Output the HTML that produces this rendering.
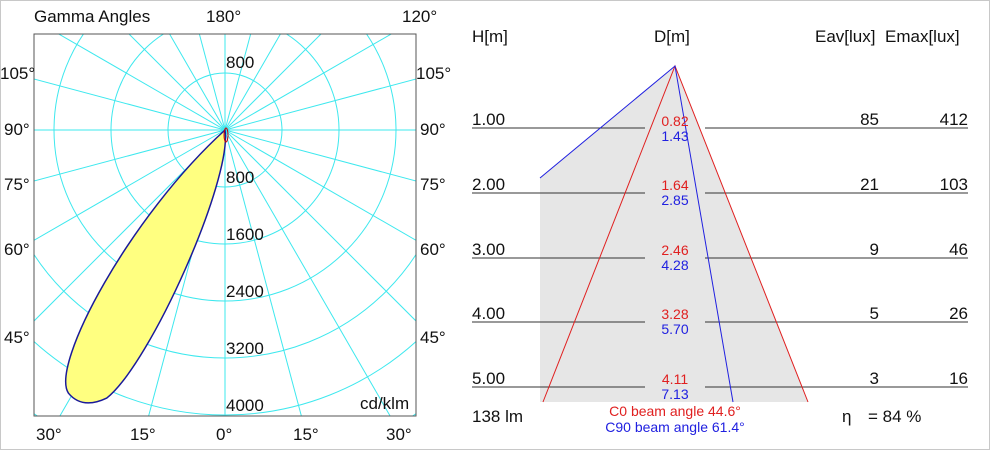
<!DOCTYPE html>
<html><head><meta charset="utf-8"><style>
html,body{margin:0;padding:0;background:#fff;overflow:hidden;width:990px;height:450px}
svg{display:block;font-family:"Liberation Sans",Arial,sans-serif}
</style></head><body>
<svg width="990" height="450" viewBox="0 0 990 450" xmlns="http://www.w3.org/2000/svg">
<rect x="0.5" y="0.5" width="989" height="449" fill="#fff" stroke="#c8c8c8"/>
<defs><clipPath id="c"><rect x="34" y="34" width="382" height="382"/></clipPath></defs>
<g clip-path="url(#c)" stroke="#3ee8ee" stroke-width="1" fill="none">
<circle cx="225" cy="130" r="57"/><circle cx="225" cy="130" r="114"/><circle cx="225" cy="130" r="171"/>
<circle cx="225" cy="130" r="228"/><circle cx="225" cy="130" r="285"/><circle cx="225" cy="130" r="342"/>
<circle cx="225" cy="130" r="399"/>
<g id="sp">
<line x1="225" y1="130" x2="225" y2="630"/>
<line x1="225" y1="130" x2="354" y2="613"/><line x1="225" y1="130" x2="475" y2="563"/>
<line x1="225" y1="130" x2="579" y2="484"/><line x1="225" y1="130" x2="658" y2="380"/>
<line x1="225" y1="130" x2="708" y2="259"/><line x1="225" y1="130" x2="725" y2="130"/>
<line x1="225" y1="130" x2="708" y2="1"/><line x1="225" y1="130" x2="658" y2="-120"/>
<line x1="225" y1="130" x2="579" y2="-224"/><line x1="225" y1="130" x2="475" y2="-303"/>
<line x1="225" y1="130" x2="354" y2="-353"/><line x1="225" y1="130" x2="225" y2="-370"/>
</g>
<use href="#sp" transform="translate(450 0) scale(-1 1)"/>
</g>
<rect x="34" y="34" width="382" height="382" fill="none" stroke="#555" stroke-width="1"/>
<path d="M0,0 C40,-30 240,-46 292,-24 Q314,-8 306,12 C290,42 120,42 0,0 Z" transform="translate(225 130) rotate(118.5)" fill="#ffff80" stroke="#1a1a9a" stroke-width="1.5"/>
<ellipse cx="226" cy="135" rx="2" ry="7" fill="none" stroke="#c00" stroke-width="1"/>
<g font-size="17" fill="#111">
<text x="34" y="22">Gamma Angles</text><text x="206" y="22">180°</text><text x="402" y="22">120°</text>
<text x="226" y="68">800</text><text x="226" y="183">800</text><text x="226" y="240">1600</text>
<text x="226" y="297">2400</text><text x="226" y="354">3200</text><text x="226" y="411">4000</text>
<text x="360" y="409">cd/klm</text>
<text x="0" y="79">105°</text><text x="4" y="135">90°</text><text x="4" y="190">75°</text><text x="4" y="255">60°</text><text x="4" y="343">45°</text>
<text x="416" y="79">105°</text><text x="420" y="135">90°</text><text x="420" y="190">75°</text><text x="420" y="255">60°</text><text x="420" y="343">45°</text>
<text x="36" y="440">30°</text><text x="130" y="440">15°</text><text x="216" y="440">0°</text><text x="293" y="440">15°</text><text x="386" y="440">30°</text>
</g>
<polygon points="540,178 675,66 808,402 540,402" fill="#e6e6e6"/>
<g stroke="#333" stroke-width="1">
<line x1="472" y1="128" x2="645" y2="128"/><line x1="705" y1="128" x2="968" y2="128"/>
<line x1="472" y1="193" x2="645" y2="193"/><line x1="705" y1="193" x2="968" y2="193"/>
<line x1="472" y1="258" x2="645" y2="258"/><line x1="705" y1="258" x2="968" y2="258"/>
<line x1="472" y1="322" x2="645" y2="322"/><line x1="705" y1="322" x2="968" y2="322"/>
<line x1="472" y1="387" x2="645" y2="387"/><line x1="705" y1="387" x2="968" y2="387"/>
</g>
<g fill="none" stroke-width="1">
<polyline points="543,402 675,66 808,402" stroke="#e02020"/>
<polyline points="540,178 675,66 733,402" stroke="#2020e0"/>
</g>
<g font-size="17" fill="#111">
<text x="472" y="42">H[m]</text><text x="654" y="42">D[m]</text><text x="815" y="42">Eav[lux]</text><text x="885" y="42">Emax[lux]</text>
<text x="472" y="125">1.00</text><text x="472" y="190">2.00</text><text x="472" y="255">3.00</text><text x="472" y="319">4.00</text><text x="472" y="384">5.00</text>
<g text-anchor="end"><text x="879" y="125">85</text><text x="879" y="190">21</text><text x="879" y="255">9</text><text x="879" y="319">5</text><text x="879" y="384">3</text>
<text x="968" y="125">412</text><text x="968" y="190">103</text><text x="968" y="255">46</text><text x="968" y="319">26</text><text x="968" y="384">16</text></g>
<text x="472" y="422">138 lm</text><text x="842" y="422">η</text><text x="868" y="422">= 84 %</text>
</g>
<g font-size="14" text-anchor="middle">
<g fill="#e02020"><text x="675" y="126">0.82</text><text x="675" y="190">1.64</text><text x="675" y="255">2.46</text><text x="675" y="319">3.28</text><text x="675" y="384">4.11</text>
<text x="675" y="416">C0  beam angle 44.6°</text></g>
<g fill="#2020e0"><text x="675" y="141">1.43</text><text x="675" y="205">2.85</text><text x="675" y="270">4.28</text><text x="675" y="334">5.70</text><text x="675" y="399">7.13</text>
<text x="675" y="432">C90 beam angle 61.4°</text></g>
</g>
</svg>
</body></html>
